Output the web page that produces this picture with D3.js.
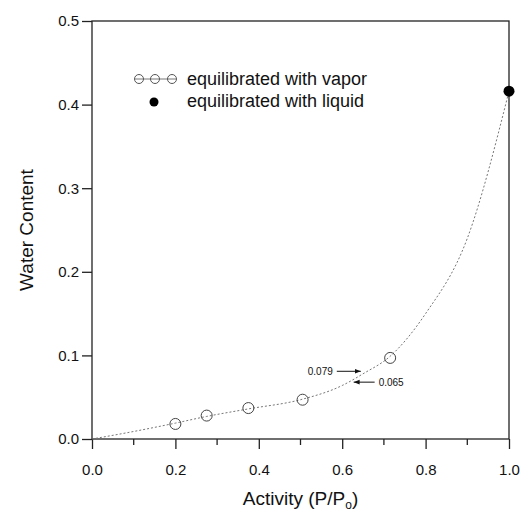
<!DOCTYPE html>
<html>
<head>
<meta charset="utf-8">
<script src="https://cdn.jsdelivr.net/npm/d3@7"></script>
<style>
  body { margin: 0; background: #fff; }
  text { font-family: "Liberation Sans", Arial, sans-serif; fill: #111; }
</style>
</head>
<body>
<div id="chart"></div>
<script>
// datos
const vaporX = [0.2, 0.275, 0.375, 0.505, 0.715]
const vaporY = [0.018, 0.028, 0.037, 0.047, 0.097]
const liquidX = [1.0]
const liquidY = [0.416]
// curva ajustada
const curveX = [0, 0.1, 0.2, 0.275, 0.375, 0.5, 0.6, 0.65, 0.715, 0.8, 0.9, 1.0]
const curveY = [0, 0.009, 0.019, 0.027, 0.036, 0.047, 0.064, 0.078, 0.099, 0.15, 0.24, 0.416]
const xTicks = [0, 0.2, 0.4, 0.6, 0.8, 1.0]
const xMinor = [0.1, 0.3, 0.5, 0.7, 0.9]
const yTicks = [0, 0.1, 0.2, 0.3, 0.4, 0.5]
const notes = [
    { label: "0.079", x: 0.647, y: 0.081, side: "left" },
    { label: "0.065", x: 0.625, y: 0.068, side: "right" }
]

const width = 523, height = 513
const margin = { top: 21, right: 14, bottom: 74, left: 92 }

const svg = d3.select("#chart").append("svg")
    .attr("width", width)
    .attr("height", height)

const x = d3.scaleLinear().domain([0, 1]).range([margin.left, width - margin.right])
const y = d3.scaleLinear().domain([0, 0.5]).range([height - margin.bottom, margin.top])

// marco
svg.append("rect")
    .attr("x", x(0)).attr("y", y(0.5))
    .attr("width", x(1) - x(0)).attr("height", y(0) - y(0.5))
    .attr("fill", "none").attr("stroke", "#222").attr("stroke-width", 1.3)

// ejes
const xAxis = svg.append("g")
    .attr("transform", `translate(0,${y(0)})`)
    .call(d3.axisBottom(x).tickValues(xTicks).tickFormat(d3.format(".1f")).tickSize(10).tickPadding(15))
xAxis.select(".domain").remove()
xAxis.selectAll("line").attr("stroke", "#222").attr("stroke-width", 1.3)
xAxis.selectAll("text").attr("font-size", 15).attr("fill", "#111")

svg.append("g")
    .attr("transform", `translate(0,${y(0)})`)
    .selectAll("line").data(xMinor).join("line")
    .attr("x1", d => x(d)).attr("x2", d => x(d))
    .attr("y1", 0).attr("y2", 6)
    .attr("stroke", "#222").attr("stroke-width", 1.3)

const yAxis = svg.append("g")
    .attr("transform", `translate(${x(0)},0)`)
    .call(d3.axisLeft(y).tickValues(yTicks).tickFormat(d3.format(".1f")).tickSize(10).tickPadding(3))
yAxis.select(".domain").remove()
yAxis.selectAll("line").attr("stroke", "#222").attr("stroke-width", 1.3)
yAxis.selectAll("text").attr("font-size", 15).attr("fill", "#111")

// curva
const curveData = curveX.map((d, i) => [d, curveY[i]])
svg.append("path")
    .datum(curveData)
    .attr("fill", "none")
    .attr("stroke", "#777")
    .attr("stroke-width", 1)
    .attr("stroke-dasharray", "2,2")
    .attr("d", d3.line().x(d => x(d[0])).y(d => y(d[1])).curve(d3.curveMonotoneX))

// puntos
svg.append("g").selectAll("circle")
    .data(vaporX.map((d, i) => [d, vaporY[i]]))
    .join("circle")
    .attr("cx", d => x(d[0])).attr("cy", d => y(d[1]))
    .attr("r", 5.5)
    .attr("fill", "none").attr("stroke", "#444").attr("stroke-width", 1)

svg.append("g").selectAll("circle")
    .data(liquidX.map((d, i) => [d, liquidY[i]]))
    .join("circle")
    .attr("cx", d => x(d[0])).attr("cy", d => y(d[1]))
    .attr("r", 5.5)
    .attr("fill", "#000")

// anotaciones
svg.append("defs").append("marker")
    .attr("id", "arr").attr("viewBox", "0 0 10 10")
    .attr("refX", 10).attr("refY", 5)
    .attr("markerWidth", 6).attr("markerHeight", 6)
    .attr("orient", "auto")
    .append("path").attr("d", "M0,1 L10,5 L0,9 Z").attr("fill", "#111")

notes.forEach(n => {
    const px = x(n.x), py = y(n.y)
    const dx = n.side === "left" ? -25 : 22
    svg.append("line")
        .attr("x1", px + dx).attr("y1", py)
        .attr("x2", px + (n.side === "left" ? -1 : 1)).attr("y2", py)
        .attr("stroke", "#111").attr("stroke-width", 1)
        .attr("marker-end", "url(#arr)")
    svg.append("text")
        .attr("x", n.side === "left" ? px + dx - 4 : px + dx + 4)
        .attr("y", py + 4)
        .attr("text-anchor", n.side === "left" ? "end" : "start")
        .attr("font-size", 10)
        .text(n.label)
})

// leyenda
const lg = svg.append("g")
lg.append("line")
    .attr("x1", 135).attr("x2", 176).attr("y1", 79).attr("y2", 79)
    .attr("stroke", "#777").attr("stroke-width", 1)
;[139, 155, 172].forEach(cx => {
    lg.append("circle").attr("cx", cx).attr("cy", 79).attr("r", 4.5)
        .attr("fill", "none").attr("stroke", "#555").attr("stroke-width", 1)
})
lg.append("circle").attr("cx", 154).attr("cy", 102).attr("r", 4.5).attr("fill", "#000")
lg.append("text").attr("x", 187).attr("y", 85).attr("font-size", 18).text("equilibrated with vapor")
lg.append("text").attr("x", 187).attr("y", 107).attr("font-size", 18).text("equilibrated with liquid")

// títulos de ejes
svg.append("text")
    .attr("transform", `translate(33,${(y(0) + y(0.5)) / 2}) rotate(-90)`)
    .attr("text-anchor", "middle")
    .attr("font-size", 19)
    .text("Water Content")

const xt = svg.append("text")
    .attr("x", (x(0) + x(1)) / 2)
    .attr("y", 505)
    .attr("text-anchor", "middle")
    .attr("font-size", 19)
xt.append("tspan").text("Activity (P/P")
xt.append("tspan").attr("font-size", 12).attr("dy", 4).text("o")
xt.append("tspan").attr("dy", -4).text(")")
</script>
</body>
</html>
